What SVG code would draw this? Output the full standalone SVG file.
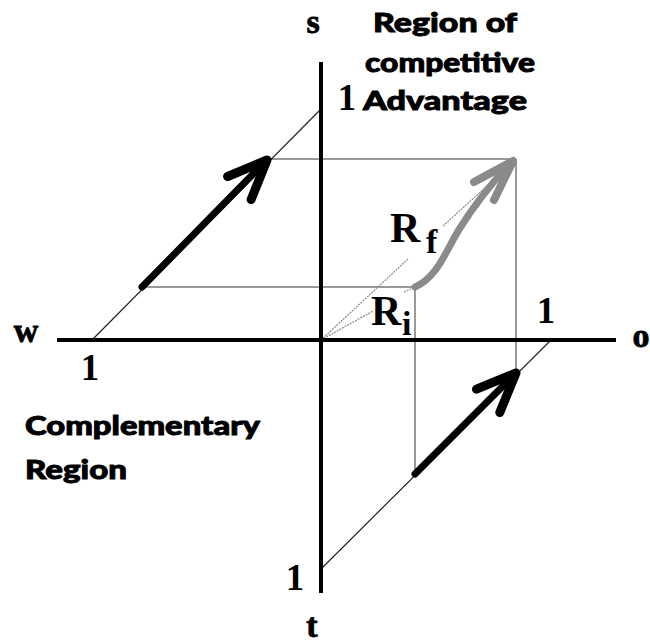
<svg xmlns="http://www.w3.org/2000/svg" width="650" height="644" viewBox="0 0 650 644">
<style>
.axis{stroke:#000;stroke-width:4;fill:none}
.diag{stroke:#222;stroke-width:1.2;fill:none}
.proj{stroke:#999;stroke-width:2;fill:none}
.dot{stroke:#888;stroke-width:1.2;fill:none;stroke-dasharray:2 1}
.shaft{stroke:#000;stroke-width:7;fill:none;stroke-linecap:round}
.head{stroke:#000;stroke-width:9;fill:none;stroke-linecap:round;stroke-linejoin:round}
.gshaft{stroke:#8a8a8a;stroke-width:7;fill:none;stroke-linecap:round}
.ghead{stroke:#8a8a8a;stroke-width:8;fill:none;stroke-linecap:round;stroke-linejoin:round}
.num{font-family:"Liberation Serif",serif;font-weight:bold;font-size:37px;text-anchor:middle;fill:#000}
.ax{font-family:"Liberation Serif",serif;font-weight:bold;font-size:34px;text-anchor:middle;fill:#000;stroke:#000;stroke-width:0.8}
.r{font-family:"Liberation Serif",serif;font-weight:bold;font-size:42px;fill:#000}
.sub{font-family:"Liberation Serif",serif;font-size:34px;font-weight:bold;fill:#000}
.lab{font-family:"Lato","Liberation Sans",sans-serif;font-weight:900;font-size:26px;fill:#000;stroke:#000;stroke-width:0.9}
</style>
<g id="connectors">
<line class="proj" x1="270" y1="159" x2="516" y2="159"/>
<line class="proj" x1="143" y1="287" x2="415" y2="287"/>
<line class="proj" x1="415" y1="287" x2="415" y2="475"/>
<line class="proj" x1="516" y1="159" x2="516" y2="374"/>
<line class="diag" x1="92" y1="340" x2="321" y2="109"/>
<line class="diag" x1="321" y1="569" x2="551" y2="340"/>
<line class="dot" x1="321" y1="340" x2="408" y2="259"/>
<line class="dot" x1="443" y1="226" x2="488" y2="185"/>
<line class="dot" x1="321" y1="340" x2="373" y2="311"/>
<line class="dot" x1="404" y1="292" x2="415" y2="287"/>
</g>
<g id="axes">
<line class="axis" x1="57" y1="340" x2="616" y2="340"/>
<line class="axis" x1="321" y1="62" x2="321" y2="593"/>
</g>
<g id="arrow-top-left">
<line class="shaft" x1="142" y1="287" x2="262" y2="165"/>
<path class="head" d="M227.6,176.5 L267,160 L251.1,199.6"/>
</g>
<g id="arrow-bottom">
<line class="shaft" x1="415" y1="474" x2="511" y2="378"/>
<path class="head" d="M476.5,389.2 L516,373 L499.8,412.5"/>
</g>
<g id="arrow-gray">
<path class="gshaft" d="M415,287 C438,277 446,250 460,228 C472,209 490,185 508,166"/>
<path class="ghead" d="M474,182 L513,161 L494,200"/>
</g>
<g id="label-s"><text class="ax" x="313" y="33">s</text></g>
<g id="label-w"><text class="ax" x="26" y="342">w</text></g>
<g id="label-o"><text class="ax" x="641" y="347" font-size="37">o</text></g>
<g id="label-t"><text class="ax" x="312" y="637" font-size="31">t</text></g>
<g id="one-s"><text class="num" x="347" y="110">1</text></g>
<g id="one-w"><text class="num" x="90" y="380">1</text></g>
<g id="one-o"><text class="num" x="546" y="323">1</text></g>
<g id="one-t"><text class="num" x="295" y="590">1</text></g>
<g id="label-rf"><text class="r" x="390" y="242">R</text><text class="sub" x="426" y="253">f</text></g>
<g id="label-ri"><text class="r" x="371" y="325">R</text><text class="sub" x="402" y="335">i</text></g>
<g id="region-advantage">
<text class="lab" x="373" y="32" textLength="144" lengthAdjust="spacingAndGlyphs">Region of</text>
<text class="lab" x="365" y="72" textLength="170" lengthAdjust="spacingAndGlyphs">competitive</text>
<text class="lab" x="363" y="110" textLength="164" lengthAdjust="spacingAndGlyphs">Advantage</text>
</g>
<g id="region-complementary">
<text class="lab" x="25" y="435" textLength="235" lengthAdjust="spacingAndGlyphs">Complementary</text>
<text class="lab" x="25" y="479" textLength="102" lengthAdjust="spacingAndGlyphs">Region</text>
</g>
</svg>
